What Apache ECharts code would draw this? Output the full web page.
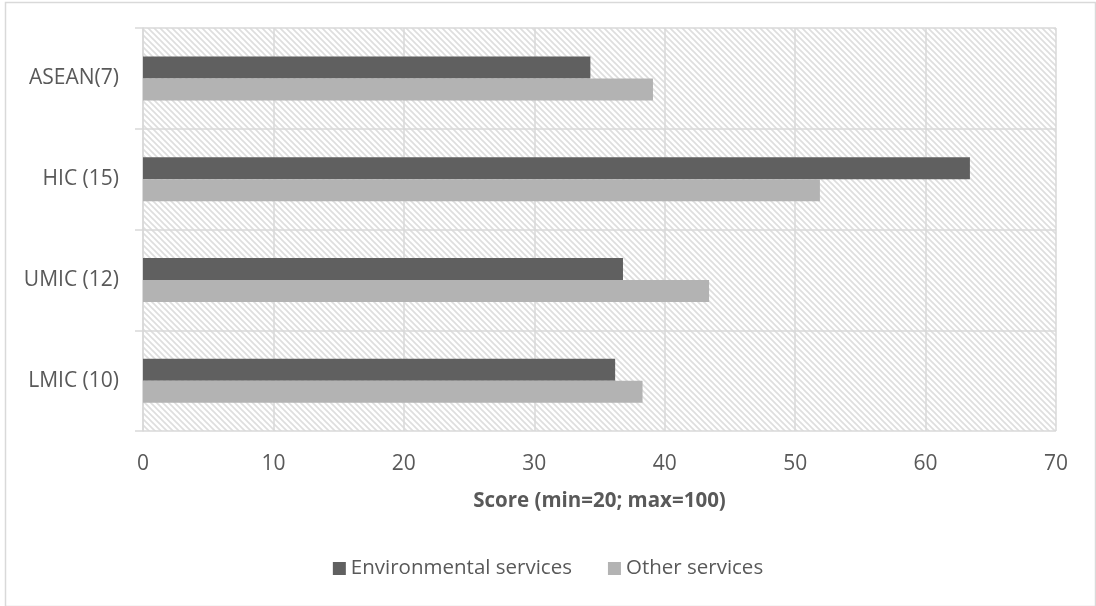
<!DOCTYPE html>
<html>
<head>
<meta charset="utf-8">
<script src="https://cdn.jsdelivr.net/npm/echarts@6/dist/echarts.min.js"></script>
<style>
html,body{margin:0;padding:0;background:#fff;}
#chart{width:1096px;height:606px;}
</style>
</head>
<body>
<div id="chart"></div>
<script>
const categories = ['ASEAN(7)', 'HIC (15)', 'UMIC (12)', 'LMIC (10)'];
const envServices = [34.3, 63.4, 36.8, 36.2];
const otherServices = [39.1, 51.9, 43.4, 38.3];
const xTicks = { min: 0, max: 70, interval: 10 };

const tile = document.createElement('canvas');
tile.width = 6; tile.height = 6;
const ctx = tile.getContext('2d');
ctx.fillStyle = '#ffffff';
ctx.fillRect(0, 0, 6, 6);
ctx.strokeStyle = '#dedede';
ctx.lineWidth = 1.7;
for (const k of [-6, 0, 6]) {
  ctx.beginPath();
  ctx.moveTo(k - 1, -1);
  ctx.lineTo(k + 7, 7);
  ctx.stroke();
}

const FONT = 'Open Sans';
const chart = echarts.init(document.getElementById('chart'));
chart.setOption({
  animation: false,
  backgroundColor: '#ffffff',
  textStyle: { fontFamily: FONT, color: '#595959' },
  graphic: [{
    type: 'rect', left: 3, top: 0,
    shape: { width: 1090, height: 604 },
    style: { fill: 'none', stroke: '#d9d9d9', lineWidth: 1.5 },
    silent: true
  }],
  grid: {
    left: 143, right: 40, top: 28, bottom: 175,
    show: true, borderWidth: 0,
    backgroundColor: { image: tile, repeat: 'repeat' }
  },
  legend: {
    bottom: 22, left: 'center',
    itemWidth: 13, itemHeight: 13, itemGap: 36,
    icon: 'rect',
    textStyle: { fontFamily: FONT, fontSize: 20.5, color: '#595959' },
    data: ['Environmental services', 'Other services']
  },
  xAxis: {
    type: 'value',
    min: xTicks.min, max: xTicks.max, interval: xTicks.interval,
    name: 'Score (min=20; max=100)',
    nameLocation: 'middle', nameGap: 60,
    nameTextStyle: { fontFamily: FONT, fontSize: 20.5, fontWeight: 'bold', color: '#595959' },
    axisLine: { show: false },
    axisTick: { show: false },
    axisLabel: { fontFamily: FONT, fontSize: 21, color: '#595959', margin: 23 },
    splitLine: { show: true, lineStyle: { color: '#d9d9d9', width: 1.5 } }
  },
  yAxis: {
    type: 'category',
    inverse: true,
    data: categories,
    axisLine: { show: true, lineStyle: { color: '#d9d9d9', width: 1.5 } },
    axisTick: { show: true, length: 8, lineStyle: { color: '#d9d9d9', width: 1.5 } },
    axisLabel: { fontFamily: FONT, fontSize: 21, color: '#595959', margin: 24 },
    splitLine: { show: true, lineStyle: { color: '#d9d9d9', width: 1.5 } }
  },
  series: [
    {
      name: 'Environmental services', type: 'bar',
      data: envServices, barWidth: 22, barGap: '0%',
      itemStyle: { color: '#606060' }
    },
    {
      name: 'Other services', type: 'bar',
      data: otherServices, barWidth: 22, barGap: '0%',
      itemStyle: { color: '#b3b3b3' }
    }
  ]
});
</script>
</body>
</html>
